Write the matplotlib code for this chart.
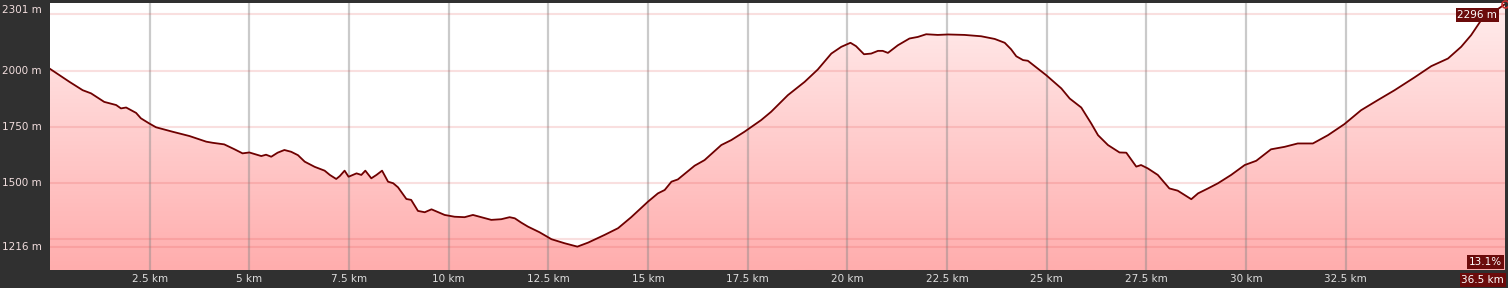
import matplotlib
matplotlib.use('Agg')
import matplotlib.pyplot as plt
import numpy as np
from matplotlib.colors import LinearSegmentedColormap

# distance (km) and elevation (m)
km = [0.00, 0.49, 0.82, 1.03, 1.36, 1.66, 1.78, 1.91, 2.16, 2.28, 2.49, 2.66,
      3.08, 3.50, 3.92, 4.08, 4.37, 4.63, 4.83, 5.00, 5.13, 5.30, 5.42, 5.55,
      5.71, 5.88, 6.05, 6.22, 6.39, 6.64, 6.89, 7.02, 7.18, 7.27, 7.39, 7.49,
      7.69, 7.81, 7.91, 8.06, 8.19, 8.33, 8.48, 8.61, 8.73, 8.94, 9.06, 9.23,
      9.40, 9.57, 9.90, 10.15, 10.40, 10.61, 11.07, 11.32, 11.53, 11.66, 11.82,
      11.99, 12.28, 12.58, 12.91, 13.23, 13.50, 13.91, 14.25, 14.58, 15.00,
      15.25, 15.42, 15.59, 15.75, 16.17, 16.42, 16.59, 16.84, 17.09, 17.42,
      17.84, 18.09, 18.51, 18.93, 19.26, 19.60, 19.85, 20.08, 20.22, 20.42,
      20.60, 20.77, 20.89, 21.02, 21.27, 21.56, 21.77, 21.98, 22.27, 22.53,
      22.94, 23.36, 23.70, 23.95, 24.11, 24.24, 24.41, 24.53, 24.99, 25.37,
      25.58, 25.87, 26.12, 26.29, 26.54, 26.83, 27.00, 27.25, 27.37, 27.54,
      27.79, 28.08, 28.29, 28.46, 28.63, 28.80, 29.05, 29.30, 29.63, 29.97,
      30.26, 30.63, 30.97, 31.30, 31.68, 32.06, 32.47, 32.89, 33.31, 33.73,
      34.23, 34.65, 35.07, 35.40, 35.65, 35.90, 36.16, 36.50]
elev = [2008, 1950, 1913, 1899, 1861, 1847, 1832, 1836, 1812, 1788, 1765, 1748,
        1728, 1709, 1684, 1679, 1672, 1650, 1632, 1636, 1629, 1620, 1626, 1617,
        1635, 1647, 1639, 1624, 1595, 1572, 1555, 1536, 1518, 1531, 1555, 1528,
        1543, 1536, 1555, 1521, 1536, 1555, 1506, 1499, 1481, 1429, 1425, 1376,
        1370, 1383, 1358, 1350, 1348, 1358, 1336, 1339, 1348, 1343, 1324,
        1306, 1281, 1250, 1232, 1217, 1235, 1269, 1299, 1348, 1417,
        1454, 1469, 1506, 1516, 1577, 1602, 1629, 1669, 1691, 1728,
        1780, 1817, 1891, 1950, 2005, 2076, 2106, 2124, 2109, 2073,
        2076, 2088, 2088, 2079, 2113, 2143, 2150, 2162, 2159, 2161,
        2159, 2153, 2141, 2124, 2095, 2064, 2047, 2044, 1980, 1921,
        1876, 1836, 1765, 1713, 1669, 1636, 1635, 1573, 1580, 1565,
        1536, 1476, 1466, 1447, 1428, 1454, 1476, 1499, 1536, 1580,
        1599, 1650, 1661, 1676, 1676, 1713, 1762, 1824, 1869, 1913,
        1970, 2020, 2054, 2106, 2158, 2224, 2254, 2296]

x_ticks = [2.5, 5, 7.5, 10, 12.5, 15, 17.5, 20, 22.5, 25, 27.5, 30, 32.5]
x_labels = ['2.5 km', '5 km', '7.5 km', '10 km', '12.5 km', '15 km', '17.5 km',
            '20 km', '22.5 km', '25 km', '27.5 km', '30 km', '32.5 km']
y_grid = [1216, 1250, 1500, 1750, 2000, 2250]
y_ticks = [2000, 1750, 1500, 1216]
y_labels = ['2000 m', '1750 m', '1500 m', '1216 m']

y_min, y_max = 1113, 2301
total_km = 36.5

W, H = 1508, 288
bg = '#303030'
fig = plt.figure(figsize=(W / 100, H / 100), dpi=100, facecolor=bg)
ax = fig.add_axes([50 / W, 18 / H, 1455 / W, 267 / H])
ax.set_xlim(0, total_km)
ax.set_ylim(y_min, y_max)
ax.set_facecolor('white')
for s in ax.spines.values():
    s.set_visible(False)
ax.set_xticks([])
ax.set_yticks([])

# gradient fill under the profile
poly = ax.fill_between(km, elev, y_min, facecolor='none', edgecolor='none')
cmap = LinearSegmentedColormap.from_list('pinks', ['#ffadad', '#ffeded'])
grad = np.linspace(0, 1, 256).reshape(-1, 1)
img = ax.imshow(grad, extent=[0, total_km, y_min, y_max], aspect='auto',
                cmap=cmap, origin='lower', zorder=1)
img.set_clip_path(poly.get_paths()[0], transform=ax.transData)

for x in x_ticks:
    ax.axvline(x, color='#8a8a8a', alpha=0.45, lw=1.6, zorder=2)
for y in y_grid:
    ax.axhline(y, color='#e05050', alpha=0.18, lw=1.5, zorder=2)

ax.plot(km, elev, color='#6e0000', lw=1.3, zorder=3)
ax.plot(km[-1], elev[-1], 'o', ms=5, mfc='none', mec='#c83030', mew=1.2,
        zorder=4, clip_on=False)

# axis labels
fig.text(2 / W, 1 - 10 / H, '%d m' % y_max, color='#f2dede', fontsize=7.5,
         ha='left', va='center')
for v, lab in zip(y_ticks, y_labels):
    yf = ax.transData.transform((0, v))[1] / H
    fig.text(2 / W, yf, lab, color='#f2dede', fontsize=7.5, ha='left', va='center')
for v, lab in zip(x_ticks, x_labels):
    xf = ax.transData.transform((v, 0))[0] / W
    fig.text(xf, 9 / H, lab, color='#dddddd', fontsize=7.5, ha='center', va='center')

box = dict(boxstyle='square,pad=0.15', facecolor='#6b0b0b', edgecolor='none')
fig.text(1497 / W, 1 - 15 / H, '%d m' % elev[-1], color='white', fontsize=7.5,
         ha='right', va='center', bbox=box)
fig.text(1502 / W, 1 - 262 / H, '13.1%', color='white', fontsize=7.5,
         ha='right', va='center', bbox=box)
fig.text(1504 / W, 1 - 280 / H, '36.5 km', color='white', fontsize=7.5,
         ha='right', va='center', bbox=box)

fig.savefig('out.png', dpi=100, facecolor=bg)
